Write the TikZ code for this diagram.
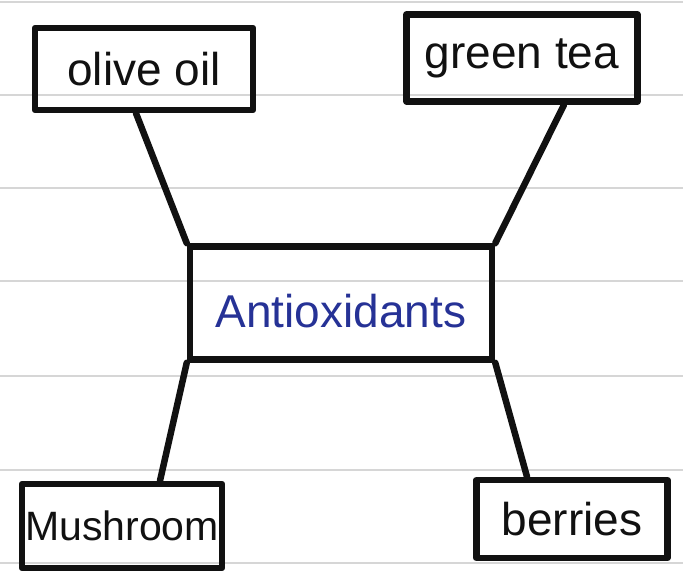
\documentclass[tikz,border=0pt]{standalone}
\usepackage{fontspec}
\setmainfont{Liberation Sans}

\begin{document}
\begin{tikzpicture}[x=1pt,y=-1pt,
  box/.style={draw=drawColor,line width=6.5pt,line join=round,inner sep=0pt,text=drawColor,font=\fontsize{46}{50}\selectfont},
  link/.style={draw=drawColor,line width=6.5pt,line cap=round}]
\definecolor{fillColor}{RGB}{255,255,255}
\definecolor{drawColor}{RGB}{17,17,17}
\definecolor{ruleColor}{RGB}{214,214,214}
\definecolor{inkColor}{RGB}{38,50,150}
\path[use as bounding box,fill=fillColor] (0,0) rectangle (683,572);

\path[draw=ruleColor,line width=1.5pt] (0,2) -- (683,2);
\path[draw=ruleColor,line width=1.5pt] (0,95) -- (683,95);
\path[draw=ruleColor,line width=1.5pt] (0,188) -- (683,188);
\path[draw=ruleColor,line width=1.5pt] (0,281) -- (683,281);
\path[draw=ruleColor,line width=1.5pt] (0,376) -- (683,376);
\path[draw=ruleColor,line width=1.5pt] (0,470) -- (683,470);
\path[draw=ruleColor,line width=1.5pt] (0,563) -- (683,563);

\node[box,minimum width=218,minimum height=82] (olive) at (144,69) {olive oil};
\node[box,minimum width=231,minimum height=87] (greentea) at (522,58) {green tea};
\node[box,minimum width=302,minimum height=113,text=inkColor,text height=58pt,text depth=10pt] (antiox) at (341,303) {Antioxidants};
\node[box,minimum width=200,minimum height=84,font=\fontsize{41}{45}\selectfont] (mushroom) at (122,526) {Mushroom};
\node[box,minimum width=191,minimum height=78] (berries) at (572,519) {berries};

\path[link] ([xshift=-8pt]olive.south) -- (antiox.north west);
\path[link] ([xshift=42pt]greentea.south) -- (antiox.north east);
\path[link] (antiox.south west) -- ([xshift=38pt]mushroom.north);
\path[link] (antiox.south east) -- ([xshift=-45pt]berries.north);
\end{tikzpicture}
\end{document}
